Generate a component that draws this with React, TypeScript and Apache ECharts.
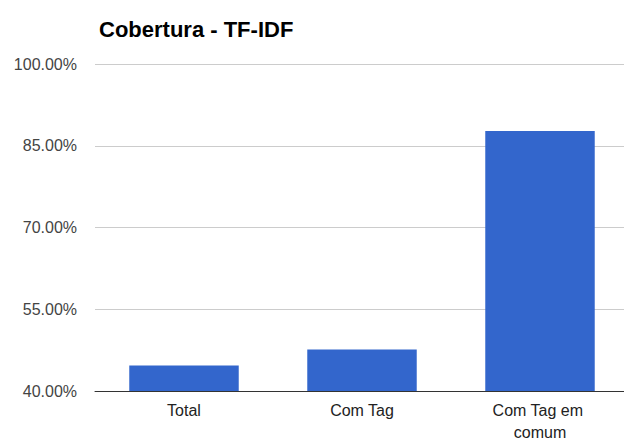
import React, { useEffect, useRef } from "react";
import * as echarts from "echarts";

const categories = ["Total", "Com Tag", "Com Tag em comum"];
const values = [44.7, 47.6, 87.7];
const yTicks = { min: 40, max: 100, interval: 15 };
const title = "Cobertura - TF-IDF";

export default function App() {
  const ref = useRef<HTMLDivElement>(null);
  useEffect(() => {
    if (!ref.current) return;
    const chart = echarts.init(ref.current, null, { renderer: "svg" });
    chart.setOption({
      animation: false,
      backgroundColor: "#ffffff",
      title: {
        text: title,
        left: 94,
        top: 13,
        textStyle: {
          fontFamily: "Liberation Sans",
          fontSize: 22,
          fontWeight: "bold",
          color: "#000000",
          lineHeight: 22,
        },
      },
      grid: { left: 95, right: 1, top: 64, bottom: 49 },
      xAxis: {
        type: "category",
        data: categories,
        axisTick: { show: false },
        axisLine: { lineStyle: { color: "#333333", width: 1 } },
        axisLabel: {
          margin: 8,
          fontFamily: "Liberation Sans",
          fontSize: 16,
          lineHeight: 22,
          color: "#222222",
          width: 130,
          overflow: "break",
          interval: 0,
        },
      },
      yAxis: {
        type: "value",
        min: yTicks.min,
        max: yTicks.max,
        interval: yTicks.interval,
        axisLine: { show: false },
        axisTick: { show: false },
        splitLine: { lineStyle: { color: "#cccccc", width: 1 } },
        axisLabel: {
          margin: 18,
          fontFamily: "Liberation Sans",
          fontSize: 16,
          color: "#444444",
          formatter: (v: number) => v.toFixed(2) + "%",
        },
      },
      series: [
        {
          type: "bar",
          data: values,
          barWidth: "61.5%",
          itemStyle: { color: "#3366cc" },
        },
      ],
    });
    return () => chart.dispose();
  }, []);
  return (
    <div style={{ position: "fixed", left: 0, top: 0, width: 624, height: 443, overflow: "hidden" }}>
      <div ref={ref} style={{ width: 630, height: 443 }} />
    </div>
  );
}
